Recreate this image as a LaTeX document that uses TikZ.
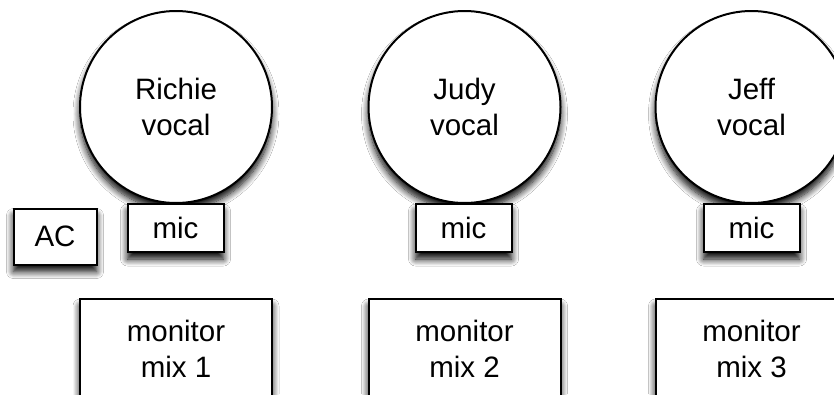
\documentclass[tikz,border=0pt]{standalone}
\usepackage{fontspec}
\setmainfont{Liberation Sans}
\usetikzlibrary{shadows.blur}
\begin{document}
\begin{tikzpicture}[x=1pt,y=-1pt,
  shad/.style={blur shadow={shadow xshift=0pt,shadow yshift=-7pt,shadow blur radius=7pt,shadow blur steps=10,shadow opacity=100}},
  base/.style={draw=black,line width=2pt,fill=white,inner sep=0pt,align=center,
    font=\fontsize{29.5}{36}\selectfont,shad},
  singer/.style={base,circle,minimum size=192pt},
  micbox/.style={base,rectangle,minimum width=96pt,minimum height=48pt},
  acbox/.style={base,rectangle,minimum width=83pt,minimum height=56pt},
  monbox/.style={base,rectangle,minimum width=192pt,minimum height=100pt}]
\useasboundingbox (0,0) rectangle (834,394);
\fill[white] (0,0) rectangle (834,394);
\begin{scope}
\clip (0,0) rectangle (834,394);
\node[singer] (richie) at (176,107) {Richie\\vocal};
\node[singer] (judy) at (464.5,107) {Judy\\vocal};
\node[singer] (jeff) at (751.5,107) {Jeff\\vocal};
\node[micbox] (mic1) at (175.5,228) {mic};
\node[micbox] (mic2) at (463.5,228) {mic};
\node[micbox] (mic3) at (751.5,228) {mic};
\node[acbox] (ac) at (55,236.5) {AC};
\node[monbox] (mon1) at (176,349) {monitor\\mix 1};
\node[monbox] (mon2) at (464.5,349) {monitor\\mix 2};
\node[monbox] (mon3) at (751.5,349) {monitor\\mix 3};
\end{scope}
\end{tikzpicture}
\end{document}
